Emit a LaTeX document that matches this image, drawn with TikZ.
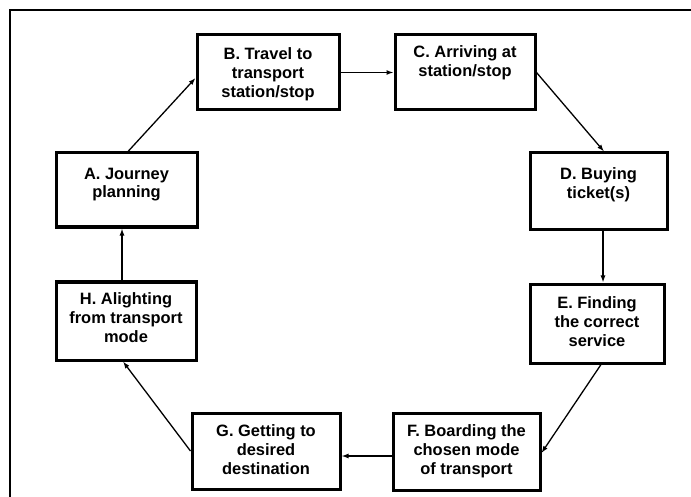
\documentclass[tikz,border=0pt]{standalone}
\usepackage{fontspec}
\setmainfont{Liberation Sans}
\usetikzlibrary{arrows.meta,calc}
\tikzset{
  stagebox/.style={draw=black, line width=3bp, rectangle, inner sep=0pt},
  stagetext/.style={anchor=north, align=center, inner sep=0pt,
    font=\fontsize{16.5}{19}\selectfont\bfseries},
  flow/.style={draw=black, line width=1.3bp, -{Latex[length=7bp,width=5bp]}},
  frameline/.style={draw=black, line width=2bp}
}
\begin{document}
\begin{tikzpicture}[x=1bp,y=-1bp]
\useasboundingbox (0,0) rectangle (691,497);
% partial outer frame
\coordinate (fl) at (9.5,497);
\coordinate (fc) at (9.5,10);
\coordinate (fr) at (691,10);
\draw[frameline] (fl) -- (fc) -- (fr);
% boxes
\node[stagebox, minimum width=141bp, minimum height=74bp] (A) at (126.5,190) {};
\node[stagebox, minimum width=142bp, minimum height=75bp] (B) at (268,72.5) {};
\node[stagebox, minimum width=140bp, minimum height=75bp] (C) at (465,72.5) {};
\node[stagebox, minimum width=137bp, minimum height=76bp] (D) at (598.5,191) {};
\node[stagebox, minimum width=134bp, minimum height=79bp] (E) at (597,323.5) {};
\node[stagebox, minimum width=147bp, minimum height=77bp] (F) at (466.5,451.5) {};
\node[stagebox, minimum width=148bp, minimum height=76bp] (G) at (266,451) {};
\node[stagebox, minimum width=140bp, minimum height=78bp] (H) at (126,321) {};
% texts
\node[stagetext] (tA) at ([yshift=-16bp]A.north) {A. Journey\\planning};
\node[stagetext] (tB) at ([yshift=-14bp]B.north) {B. Travel to\\transport\\station/stop};
\node[stagetext] (tC) at ([yshift=-12bp]C.north) {C. Arriving at\\station/stop};
\node[stagetext] (tD) at ([yshift=-16bp]D.north) {D. Buying\\ticket(s)};
\node[stagetext] (tE) at ([yshift=-14bp]E.north) {E. Finding\\the correct\\service};
\node[stagetext] (tF) at ([yshift=-13bp]F.north) {F. Boarding the\\chosen mode\\of transport};
\node[stagetext] (tG) at ([yshift=-13bp]G.north) {G. Getting to\\desired\\destination};
\node[stagetext] (tH) at ([yshift=-12bp]H.north) {H. Alighting\\from transport\\mode};
% connectors
\draw[flow] ([xshift=1.5bp]A.north) -- ([yshift=-5.5bp]B.west);
\draw[flow] (B.east) -- (C.west);
\draw[flow] (C.east) -- ([xshift=5.5bp]D.north);
\draw[flow] ([xshift=4.5bp]D.south) -- ([xshift=4.5bp]D.south |- E.north);
\draw[flow] ([xshift=4bp]E.south) -- ([yshift=-1.5bp]F.east);
\draw[flow] ([yshift=-4.5bp]F.west) -- ([yshift=-4.5bp]F.west -| G.east);
\draw[flow] (G.west) -- ([xshift=-3bp]H.south);
\draw[flow] ([xshift=-4bp]H.north) -- ([xshift=-4bp]H.north |- A.south);
\end{tikzpicture}
\end{document}
